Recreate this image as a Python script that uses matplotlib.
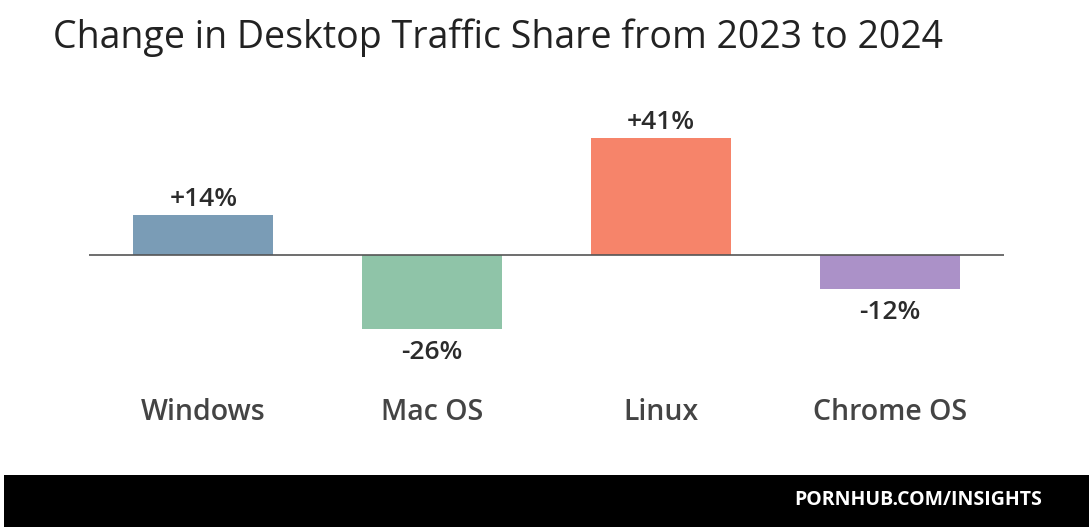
import matplotlib
matplotlib.use("Agg")
import matplotlib.pyplot as plt
from matplotlib.patches import Rectangle

categories = ["Windows", "Mac OS", "Linux", "Chrome OS"]
values = [14, -26, 41, -12]
colors = ["#7A9CB6", "#8FC4A8", "#F6846A", "#AB91C8"]
title = "Change in Desktop Traffic Share from 2023 to 2024"
footer = "PORNHUB.COM/INSIGHTS"

W, H = 1089, 531
fig = plt.figure(figsize=(W / 100, H / 100), dpi=100)
fig.patch.set_facecolor("white")

FONT = ["Open Sans", "DejaVu Sans"]

# axes: zero line from x=89..1004 px, zero at y=255 px, ~2.85 px per percent
ymin, ymax = -40, 50
ppu = 2.85
top_px = 255 - ymax * ppu
bot_px = 255 - ymin * ppu
ax = fig.add_axes([89 / W, 1 - bot_px / H, 915 / W, (bot_px - top_px) / H])
ax.set_xlim(-0.5, 3.5)
ax.set_ylim(ymin, ymax)
ax.axis("off")

x = list(range(len(categories)))
ax.bar(x, values, width=0.613, color=colors, zorder=2)
ax.axhline(0, color="#555555", linewidth=1.2, zorder=3)

for xi, v in zip(x, values):
    label = f"+{v}%" if v > 0 else f"-{abs(v)}%"
    if v > 0:
        ax.annotate(label, (xi, v), xytext=(0, 2), textcoords="offset points",
                    ha="center", va="bottom", fontsize=19, fontweight="semibold",
                    color="#2b2b2b", family=FONT)
    else:
        ax.annotate(label, (xi, v), xytext=(0, -8), textcoords="offset points",
                    ha="center", va="top", fontsize=19, fontweight="semibold",
                    color="#2b2b2b", family=FONT)

# category labels
lab_y = 1 - 412 / H
for xi, c in zip(x, categories):
    xf = (89 + (xi + 0.5) * 915 / 4) / W
    fig.text(xf, lab_y, c, ha="center", va="center", fontsize=20.5,
             fontweight="semibold", color="#444444", family=FONT)

# title
fig.text(53 / W, 1 - 38 / H, title, ha="left", va="center", fontsize=27,
         color="#222222", family=FONT)

# footer band
fig.patches.append(Rectangle((4 / W, 1 - 527 / H), (W - 4) / W, 52 / H,
                             transform=fig.transFigure, facecolor="black",
                             edgecolor="none", zorder=0))
fig.text(1042 / W, 1 - 500 / H, footer, ha="right", va="center", fontsize=14,
         fontweight="bold", color="white", family=FONT)

fig.savefig("out.png", dpi=100)
